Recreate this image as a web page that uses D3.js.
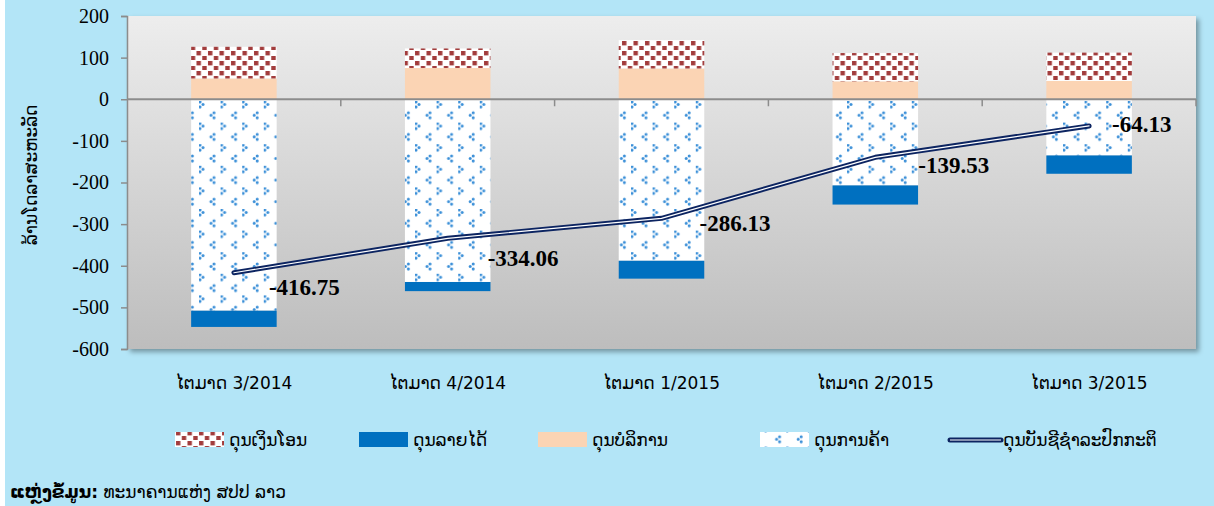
<!DOCTYPE html>
<html>
<head>
<meta charset="utf-8">
<script src="https://cdn.jsdelivr.net/npm/d3@7"></script>
<style>
  body { margin: 0; background: #fff; }
  svg { display: block; }
</style>
</head>
<body>
<div id="chart"></div>
<script>
// data (million USD)
const quarters = ['ໄຕມາດ 3/2014', 'ໄຕມາດ 4/2014', 'ໄຕມາດ 1/2015', 'ໄຕມາດ 2/2015', 'ໄຕມາດ 3/2015'];
const remittances = [76, 47, 68, 68, 68];       // ດຸນເງິນໂອນ
const income = [-39, -22, -43, -46, -44];        // ດຸນລາຍໄດ້
const services = [50, 75, 74, 43, 44];           // ດຸນບໍລິການ
const trade = [-508, -439, -388, -207, -135];    // ດຸນການຄ້າ
const currentAccount = [-416.75, -334.06, -286.13, -139.53, -64.13]; // ດຸນບັນຊີຊຳລະປົກກະຕິ
const yTicks = [200, 100, 0, -100, -200, -300, -400, -500, -600];

// label nudges (px) like the hand placed labels in the original
const labelNudge = [[35, 17], [40, 22], [38, 7], [43, 10], [23, 1]];

const W = 1214, H = 506;
const plot = {left: 127, right: 1196, top: 16, bottom: 349};
const laoFont = "'DejaVu Sans', 'Noto Sans', sans-serif";
const numFont = "'Liberation Serif', 'Times New Roman', serif";

// plain hyphen minus, like the original
const fmt = d3.formatLocale({decimal: '.', thousands: ',', grouping: [3], currency: ['', ''], minus: '-'});

const svg = d3.select('#chart').append('svg')
    .attr('width', W)
    .attr('height', H);

const defs = svg.append('defs');

// plot background gradient
const grad = defs.append('linearGradient')
    .attr('id', 'plotBg').attr('x1', 0).attr('y1', 0).attr('x2', 0).attr('y2', 1);
grad.append('stop').attr('offset', '0%').attr('stop-color', '#ededed');
grad.append('stop').attr('offset', '100%').attr('stop-color', '#bdbdbd');

const shadow = defs.append('filter').attr('id', 'shadow')
    .attr('x', '-5%').attr('y', '-5%').attr('width', '110%').attr('height', '115%');
shadow.append('feDropShadow').attr('dx', 3).attr('dy', 3).attr('stdDeviation', 2.5)
    .attr('flood-color', '#000').attr('flood-opacity', 0.35);

// brown squares pattern (remittances)
const pDots = defs.append('pattern').attr('id', 'dots')
    .attr('patternUnits', 'userSpaceOnUse').attr('width', 11.5).attr('height', 10);
pDots.append('rect').attr('width', 11.5).attr('height', 10).attr('fill', '#fff');
[[1, 1], [6.8, 6]].forEach(p => {
    pDots.append('rect').attr('x', p[0]).attr('y', p[1])
        .attr('width', 4.4).attr('height', 4.4).attr('fill', '#a23c3c');
});

// blue chevrons pattern (trade), each chevron made of three dots
const pChev = defs.append('pattern').attr('id', 'chev')
    .attr('patternUnits', 'userSpaceOnUse').attr('width', 21.6).attr('height', 21.6)
    .attr('x', 199).attr('y', 101);
pChev.append('rect').attr('width', 21.6).attr('height', 21.6).attr('fill', '#fff');
[[1, 1], [4, 3.5], [1, 6], [15, 11.8], [12, 14.3], [15, 16.8]].forEach(p => {
    pChev.append('circle').attr('cx', p[0]).attr('cy', p[1]).attr('r', 1.5)
        .attr('fill', '#3a8fd8');
});

// outer background
svg.append('rect').attr('width', W).attr('height', H).attr('fill', '#b3e5f7');
svg.append('rect').attr('width', 5).attr('height', H).attr('fill', '#fff');

const x = d3.scaleBand()
    .domain(quarters)
    .range([plot.left, plot.right])
    .paddingInner(0.6)
    .paddingOuter(0.3);

const y = d3.scaleLinear()
    .domain([-600, 200])
    .range([plot.bottom, plot.top]);

// plot area
svg.append('rect')
    .attr('x', plot.left).attr('y', plot.top)
    .attr('width', plot.right - plot.left).attr('height', plot.bottom - plot.top)
    .attr('fill', 'url(#plotBg)')
    .attr('filter', 'url(#shadow)');

// stacked bars
const rows = quarters.map((q, i) => ({
    q, services: services[i], remittances: remittances[i], trade: trade[i], income: income[i]
}));
const keys = ['services', 'remittances', 'trade', 'income'];
const fills = {services: '#fbd4b4', remittances: 'url(#dots)', trade: 'url(#chev)', income: '#0070c0'};
const series = d3.stack().keys(keys).offset(d3.stackOffsetDiverging)(rows);

svg.append('g').selectAll('g')
    .data(series)
    .join('g')
    .attr('fill', d => fills[d.key])
    .selectAll('rect')
    .data(d => d)
    .join('rect')
    .attr('x', d => x(d.data.q))
    .attr('width', x.bandwidth())
    .attr('y', d => y(Math.max(d[0], d[1])))
    .attr('height', d => Math.abs(y(d[0]) - y(d[1])));

// y axis
const yAxis = svg.append('g')
    .attr('transform', `translate(${plot.left},0)`)
    .call(d3.axisLeft(y).tickValues(yTicks).tickSize(6).tickPadding(12).tickFormat(fmt.format('d')));
yAxis.select('.domain').attr('stroke', '#8c8c8c').attr('stroke-width', 1.5);
yAxis.selectAll('.tick line').attr('stroke', '#8c8c8c').attr('stroke-width', 1.5);
yAxis.selectAll('.tick text')
    .attr('font-family', numFont).attr('font-size', 20).attr('fill', '#000');

// zero line with category ticks
const zero = svg.append('g').attr('transform', `translate(0,${y(0)})`);
zero.append('line').attr('x1', plot.left).attr('x2', plot.right)
    .attr('stroke', '#8c8c8c').attr('stroke-width', 2);
const bounds = quarters.map(q => x(q) - x.step() * 0.3).concat([plot.right]);
zero.selectAll('.ct').data(bounds.slice(1)).join('line')
    .attr('x1', d => d).attr('x2', d => d).attr('y1', 0).attr('y2', 7)
    .attr('stroke', '#8c8c8c').attr('stroke-width', 1.5);

// x labels
svg.append('g').selectAll('text')
    .data(quarters)
    .join('text')
    .attr('x', d => x(d) + x.bandwidth() / 2)
    .attr('y', 389)
    .attr('text-anchor', 'middle')
    .attr('font-family', laoFont).attr('font-size', 17)
    .text(d => d);

// current account line (double line)
const pts = quarters.map((q, i) => [x(q) + x.bandwidth() / 2, y(currentAccount[i])]);
const line = d3.line();
svg.append('path').attr('d', line(pts))
    .attr('fill', 'none').attr('stroke', '#0c2461').attr('stroke-width', 5)
    .attr('stroke-linejoin', 'round').attr('stroke-linecap', 'round');
svg.append('path').attr('d', line(pts))
    .attr('fill', 'none').attr('stroke', '#fff').attr('stroke-width', 1.2)
    .attr('stroke-linejoin', 'round').attr('stroke-linecap', 'round');

svg.append('g').selectAll('text')
    .data(currentAccount)
    .join('text')
    .attr('x', (d, i) => pts[i][0] + labelNudge[i][0])
    .attr('y', (d, i) => pts[i][1] + labelNudge[i][1])
    .attr('dominant-baseline', 'middle')
    .attr('font-family', numFont).attr('font-weight', 'bold').attr('font-size', 23)
    .text(d => fmt.format('.2f')(d));

// y title
svg.append('text')
    .attr('transform', 'translate(37,175) rotate(-90)')
    .attr('text-anchor', 'middle')
    .attr('font-family', laoFont).attr('font-size', 17)
    .text('ລ້ານໂດລາສະຫະລັດ');

// legend
const legendItems = [
    {label: 'ດຸນເງິນໂອນ', fill: 'url(#dots)', x: 175},
    {label: 'ດຸນລາຍໄດ້', fill: '#0070c0', x: 359},
    {label: 'ດຸນບໍລິການ', fill: '#fbd4b4', x: 538},
    {label: 'ດຸນການຄ້າ', fill: 'url(#chev)', x: 760},
    {label: 'ດຸນບັນຊີຊຳລະປົກກະຕິ', line: true, x: 949}
];
const lg = svg.append('g').selectAll('g')
    .data(legendItems)
    .join('g')
    .attr('transform', d => `translate(${d.x},0)`);
lg.filter(d => !d.line).append('rect')
    .attr('y', 432).attr('width', 49).attr('height', 15)
    .attr('fill', d => d.fill);
lg.filter(d => d.line).append('line')
    .attr('x1', 1).attr('x2', 52).attr('y1', 440).attr('y2', 440)
    .attr('stroke', '#0c2461').attr('stroke-width', 5).attr('stroke-linecap', 'round');
lg.filter(d => d.line).append('line')
    .attr('x1', 1).attr('x2', 52).attr('y1', 440).attr('y2', 440)
    .attr('stroke', '#fff').attr('stroke-width', 1.2);
lg.append('text')
    .attr('x', 54)
    .attr('y', 446)
    .attr('font-family', laoFont).attr('font-size', 17)
    .text(d => d.label);

// source
const src = svg.append('text')
    .attr('x', 10).attr('y', 498)
    .attr('font-family', laoFont).attr('font-size', 17);
src.append('tspan').attr('font-weight', 'bold').text('ແຫຼ່ງຂໍ້ມູນ:');
src.append('tspan').text(' ທະນາຄານແຫ່ງ ສປປ ລາວ');
</script>
</body>
</html>
